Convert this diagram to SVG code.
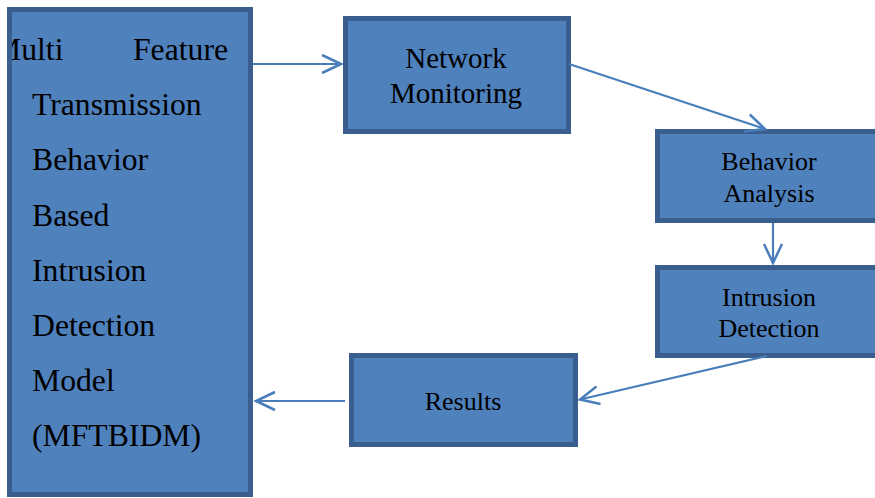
<svg xmlns="http://www.w3.org/2000/svg" width="875" height="498" viewBox="0 0 875 498">
<style>
.box{fill:#4F81BD;stroke:#3A5F8E;stroke-width:5}
.t{font-family:"Liberation Serif","Times New Roman",serif;fill:#000}
.big{font-size:31.7px}
.mid{font-size:29px;text-anchor:middle}
.sm{font-size:26px;text-anchor:middle}
.con{stroke:#4A7EBB;stroke-width:2.2;fill:none}
</style>
<defs>
<marker id="arr" markerUnits="userSpaceOnUse" viewBox="-22 -12 24 24" refX="0" refY="0" markerWidth="24" markerHeight="24" orient="auto">
<path d="M-19,-9 L0,0 L-19,9" fill="none" stroke="#4A7EBB" stroke-width="2.5"/>
</marker>
<clipPath id="lclip"><rect x="12" y="12" width="236" height="480"/></clipPath>
</defs>
<rect width="875" height="498" fill="#fff"/>
<g id="mftbidm">
<rect class="box" x="9.5" y="9.5" width="241" height="485"/>
<g clip-path="url(#lclip)">
<text class="t big" x="-7" y="60">Multi</text>
</g>
<text class="t big" x="133" y="60">Feature</text>
<text class="t big" x="32" y="115">Transmission</text>
<text class="t big" x="32" y="170">Behavior</text>
<text class="t big" x="32" y="225.5">Based</text>
<text class="t big" x="32" y="280.5">Intrusion</text>
<text class="t big" x="32" y="336">Detection</text>
<text class="t big" x="32" y="391">Model</text>
<text class="t big" x="32" y="446">(MFTBIDM)</text>
</g>
<g id="network-monitoring">
<rect class="box" x="345.5" y="18.5" width="223" height="113"/>
<text class="t mid" x="456" y="68">Network</text>
<text class="t mid" x="456" y="102.5">Monitoring</text>
</g>
<g id="behavior-analysis">
<rect class="box" x="657.5" y="131.5" width="225" height="89"/>
<text class="t sm" x="769" y="170">Behavior</text>
<text class="t sm" x="769" y="201.5">Analysis</text>
</g>
<g id="intrusion-detection">
<rect class="box" x="657.5" y="267.5" width="225" height="88"/>
<text class="t sm" x="769" y="306">Intrusion</text>
<text class="t sm" x="769" y="336.5">Detection</text>
</g>
<g id="results">
<rect class="box" x="351.5" y="355.5" width="224" height="89"/>
<text class="t sm" x="463" y="410">Results</text>
</g>
<g id="connectors">
<line class="con" x1="253" y1="64" x2="341" y2="64" marker-end="url(#arr)"/>
<line class="con" x1="569" y1="64" x2="765" y2="129" marker-end="url(#arr)"/>
<line class="con" x1="773" y1="223" x2="773" y2="263" marker-end="url(#arr)"/>
<line class="con" x1="767" y1="356" x2="580" y2="399.5" marker-end="url(#arr)"/>
<line class="con" x1="345" y1="401" x2="256" y2="401" marker-end="url(#arr)"/>
</g>
</svg>
